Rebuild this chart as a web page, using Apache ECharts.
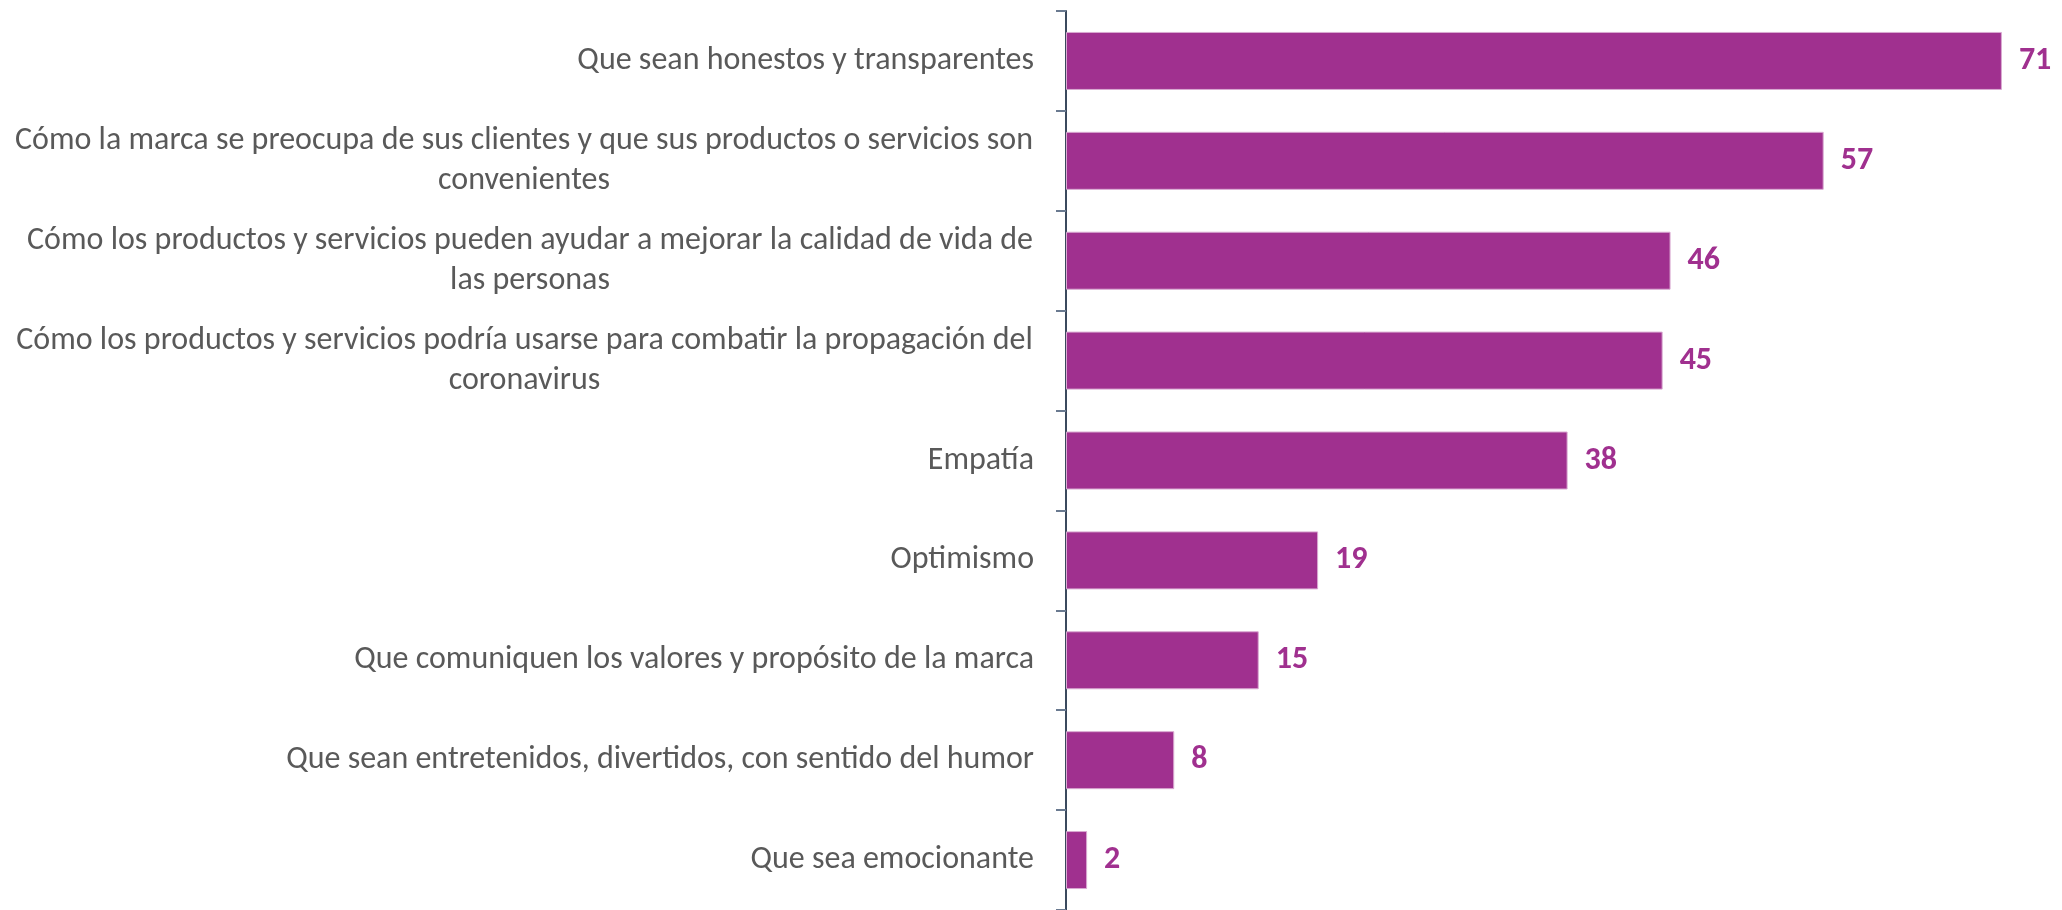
<!DOCTYPE html>
<html>
<head>
<meta charset="utf-8">
<script src="https://cdn.jsdelivr.net/npm/echarts@6/dist/echarts.min.js"></script>
<style>
html,body{margin:0;padding:0;background:#fff;}
#chart{width:2062px;height:910px;}
</style>
</head>
<body>
<div id="chart"></div>
<script>
const categories = [
  "Que sean honestos y transparentes",
  "Cómo la marca se preocupa de sus clientes y que sus productos o servicios son\nconvenientes",
  "Cómo los productos y servicios pueden ayudar a mejorar la calidad de vida de\nlas personas",
  "Cómo los productos y servicios podría usarse para combatir la propagación del\ncoronavirus",
  "Empatía",
  "Optimismo",
  "Que comuniquen los valores y propósito de la marca",
  "Que sean entretenidos, divertidos, con sentido del humor",
  "Que sea emocionante"
];
const values = [70.9, 57.4, 45.8, 45.2, 38.0, 19.1, 14.6, 8.2, 1.6];

const fontFam = 'Carlito, Lato, "Noto Sans", sans-serif';
const labelSize = 32;
const labelColor = '#595959';

// build per-label rich styles so wrapped lines are centred under the first line
const ctx = document.createElement('canvas').getContext('2d');
ctx.font = labelSize + 'px ' + fontFam;
const rich = {};
categories.forEach((c, i) => {
  const lines = c.split('\n');
  const w = Math.max(...lines.map(l => ctx.measureText(l).width));
  rich['r' + i] = {
    width: Math.ceil(w) + 2, align: 'center',
    fontSize: labelSize, lineHeight: 40, color: labelColor, fontFamily: fontFam
  };
});

const chart = echarts.init(document.getElementById('chart'), null, {renderer: 'canvas'});
chart.setOption({
  animation: false,
  backgroundColor: '#ffffff',
  grid: {left: 1066, top: 11, width: 990, height: 900, containLabel: false},
  xAxis: {
    type: 'value', min: 0, max: 75, show: false,
    splitLine: {show: false}
  },
  yAxis: {
    type: 'category',
    data: categories,
    inverse: true,
    axisLine: {show: true, lineStyle: {color: '#3B4A5E', width: 2}},
    axisTick: {show: true, length: 10, lineStyle: {color: '#6A7A90', width: 2}},
    axisLabel: {
      margin: 32,
      color: labelColor,
      fontFamily: fontFam,
      fontSize: labelSize,
      lineHeight: 40,
      align: 'right',
      rich: rich,
      formatter: (val, idx) => {
        const lines = val.split('\n');
        if (lines.length === 1) return val;
        return lines.map(l => '{r' + idx + '|' + l + '}').join('\n');
      }
    }
  },
  series: [{
    type: 'bar',
    data: values,
    barWidth: 58,
    itemStyle: {color: '#A0308F', borderColor: '#D9A9D1', borderWidth: 1},
    label: {
      show: true,
      position: 'right',
      distance: 17,
      color: '#A0308F',
      fontWeight: 'bold',
      fontFamily: fontFam,
      fontSize: 32,
      formatter: p => Math.round(p.value)
    }
  }]
});
</script>
</body>
</html>
